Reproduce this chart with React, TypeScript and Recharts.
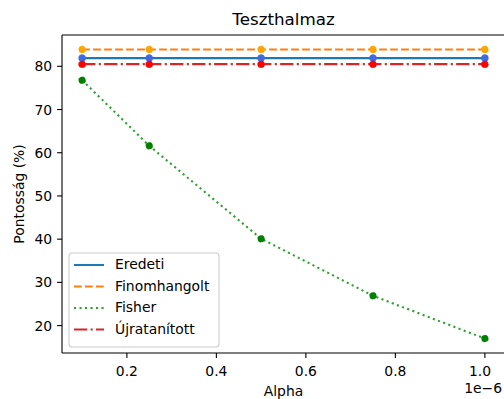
import { LineChart, Line, XAxis, YAxis, ReferenceLine } from "recharts";

// Alpha values and accuracy (%) per model variant
const alpha = [1e-7, 2.5e-7, 5e-7, 7.5e-7, 1e-6];
const eredeti = [81.9, 81.9, 81.9, 81.9, 81.9];
const finomhangolt = [83.9, 83.9, 83.9, 83.9, 83.9];
const fisher = [76.8, 61.6, 40.1, 26.9, 17.0];
const ujratanitott = [80.5, 80.5, 80.5, 80.5, 80.5];

const xTicks = [2e-7, 4e-7, 6e-7, 8e-7, 1e-6];
const yTicks = [20, 30, 40, 50, 60, 70, 80];

const X_DOMAIN: [number, number] = [0.055e-6, 1.045e-6];
const Y_DOMAIN: [number, number] = [13.655, 87.245];

const FONT = "DejaVu Sans, sans-serif";
const LW = 2.08;

const series = [
  { key: "eredeti", name: "Eredeti", values: eredeti, color: "#1f77b4", marker: "#4169e1", dash: undefined as string | undefined },
  { key: "finomhangolt", name: "Finomhangolt", values: finomhangolt, color: "#ff7f0e", marker: "#ffa500", dash: "7.7 3.3" },
  { key: "fisher", name: "Fisher", values: fisher, color: "#2ca02c", marker: "#008000", dash: "2.1 3.4" },
  { key: "ujratanitott", name: "Újratanított", values: ujratanitott, color: "#d62728", marker: "#ff0000", dash: "13.3 3.3 2.1 3.3" },
];

const data = alpha.map((a, i) => {
  const row: Record<string, number> = { alpha: a };
  series.forEach((s) => (row[s.key] = s.values[i]));
  return row;
});

function XTick({ x, y, payload }: any) {
  return (
    <text x={x} y={y + 18} textAnchor="middle" fontSize={13.9} fontFamily={FONT} fill="#000">
      {(payload.value * 1e6).toFixed(1)}
    </text>
  );
}

function YTick({ x, y, payload }: any) {
  return (
    <text x={x - 4.9} y={y} dy="0.36em" textAnchor="end" fontSize={13.9} fontFamily={FONT} fill="#000">
      {payload.value}
    </text>
  );
}

function Legend() {
  const rows = [12, 33.5, 55, 76.5];
  return (
    <svg
      width={152}
      height={96}
      style={{ position: "absolute", left: 68, top: 252 }}
    >
      <rect x={1} y={1} width={150} height={94} rx={3} fill="#fff" fillOpacity={0.8} stroke="#cccccc" strokeWidth={1.1} />
      {series.map((s, i) => (
        <g key={s.key}>
          <line x1={6} x2={36} y1={rows[i] + 1} y2={rows[i] + 1} stroke={s.color} strokeWidth={LW} strokeDasharray={s.dash} />
          <text x={47} y={rows[i]} dy="0.36em" fontSize={13.9} fontFamily={FONT} fill="#000">
            {s.name}
          </text>
        </g>
      ))}
    </svg>
  );
}

export default function App() {
  return (
    <div style={{ position: "absolute", left: 0, top: 0, width: 504, height: 399, overflow: "hidden", background: "#fff" }}>
      <LineChart width={510} height={399} data={data} margin={{ top: 35, right: 5, bottom: 0, left: 0 }}>
        <XAxis
          dataKey="alpha"
          type="number"
          domain={X_DOMAIN}
          ticks={xTicks}
          height={46}
          stroke="#000"
          strokeWidth={1.1}
          tickSize={4.9}
          tickMargin={0}
          tick={<XTick />}
          label={{
            content: () => (
              <text x={283.5} y={396} textAnchor="middle" fontSize={13.9} fontFamily={FONT} fill="#000">
                Alpha
              </text>
            ),
          }}
        />
        <YAxis
          type="number"
          domain={Y_DOMAIN}
          ticks={yTicks}
          width={62}
          stroke="#000"
          strokeWidth={1.1}
          tickSize={4.9}
          tickMargin={0}
          tick={<YTick />}
          label={{
            content: () => (
              <text
                x={19}
                y={194}
                transform="rotate(-90 19 194)"
                textAnchor="middle"
                dominantBaseline="central"
                fontSize={13.9}
                fontFamily={FONT}
                fill="#000"
              >
                Pontosság (%)
              </text>
            ),
          }}
        />
        <ReferenceLine y={Y_DOMAIN[1]} stroke="#000" strokeWidth={1.1} />
        <ReferenceLine x={X_DOMAIN[1]} stroke="#000" strokeWidth={1.1} />
        {series.map((s) => (
          <Line
            key={s.key}
            dataKey={s.key}
            name={s.name}
            type="linear"
            stroke={s.color}
            strokeWidth={LW}
            strokeDasharray={s.dash}
            dot={{ r: 3.5, fill: s.marker, stroke: s.marker, strokeWidth: 0.5 }}
            activeDot={false}
            isAnimationActive={false}
          />
        ))}
      </LineChart>
      <div
        style={{
          position: "absolute",
          left: 0,
          width: 567,
          top: 9,
          textAlign: "center",
          fontFamily: FONT,
          fontSize: 16.7,
          color: "#000",
          lineHeight: "20px",
        }}
      >
        Teszthalmaz
      </div>
      <div
        style={{
          position: "absolute",
          right: 2,
          top: 380,
          fontFamily: FONT,
          fontSize: 13.9,
          color: "#000",
          lineHeight: "16px",
        }}
      >
        1e−6
      </div>
      <Legend />
    </div>
  );
}
